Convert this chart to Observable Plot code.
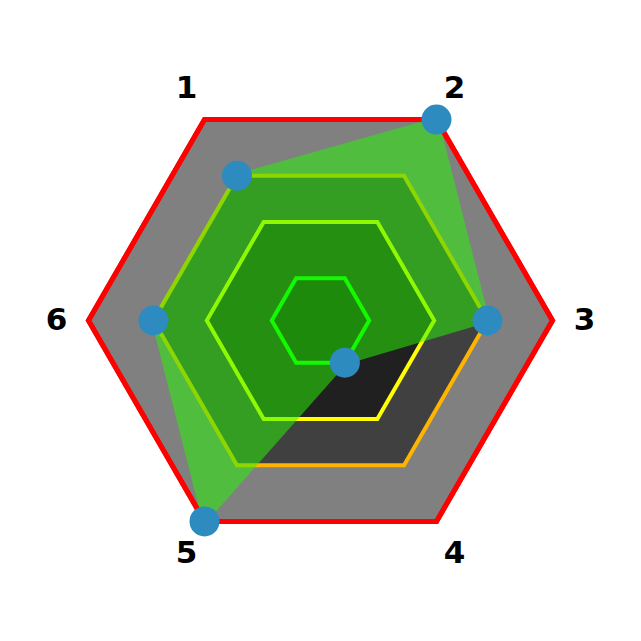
<!DOCTYPE html>
<html>
<head>
<meta charset="utf-8">
<script src="https://cdn.jsdelivr.net/npm/d3@7"></script>
<script src="https://cdn.jsdelivr.net/npm/@observablehq/plot@0.6"></script>
<style>
  html, body { margin: 0; padding: 0; background: #ffffff; }
  #chart svg { display: block; }
</style>
</head>
<body>
<div id="chart"></div>
<script>
// ---- data ----
const axes = ["1", "2", "3", "4", "5", "6"];
const values = [72, 100, 72, 21, 100, 72];
const ringLevels = [100, 72, 49, 21];
const ringFills = ["#808080", "#404040", "#202020", "#151515"];
const ringStrokes = ["#ff0000", "#ffb400", "#ffff00", "#00ff00"];

// ---- geometry helpers ----
const R = 232;
const rScale = d3.scaleLinear().domain([0, 100]).range([0, R]);
const angleOf = i => (120 - 60 * i) * Math.PI / 180;
const polar = (i, rad) => ({x: rad * Math.cos(angleOf(i)), y: rad * Math.sin(angleOf(i))});

const marks = [];
ringLevels.forEach((lvl, k) => {
  const pts = axes.map((a, i) => ({axis: a, ...polar(i, rScale(lvl))}));
  marks.push(Plot.line(pts, {
    x: "x", y: "y", curve: "linear-closed",
    fill: ringFills[k], stroke: ringStrokes[k],
    strokeWidth: k === 0 ? 5 : 4, strokeLinejoin: "miter", strokeMiterlimit: 4
  }));
});

const dataPts = axes.map((a, i) => ({axis: a, value: values[i], ...polar(i, rScale(values[i]))}));
marks.push(Plot.line(dataPts, {
  x: "x", y: "y", curve: "linear-closed",
  fill: "rgb(40,245,5)", stroke: "rgb(40,245,5)", strokeWidth: 4,
  strokeLinejoin: "miter", strokeMiterlimit: 4, opacity: 0.52
}));

// outer border redrawn on top
const outerPts = axes.map((a, i) => ({axis: a, ...polar(i, rScale(ringLevels[0]))}));
marks.push(Plot.line(outerPts, {
  x: "x", y: "y", curve: "linear-closed",
  fill: "none", stroke: ringStrokes[0], strokeWidth: 5, strokeLinejoin: "miter", strokeMiterlimit: 4
}));

marks.push(Plot.dot(dataPts, {x: "x", y: "y", r: 15, fill: "#2d8bbf", stroke: "none"}));

const labelPts = axes.map((a, i) => ({
  axis: a,
  ...polar(i, R + 32 + 4 * Math.abs(Math.sin(angleOf(i))) / Math.sin(Math.PI / 3))
}));
marks.push(Plot.text(labelPts, {
  x: "x", y: "y", text: "axis",
  fontSize: 31, fontWeight: "bold", fontFamily: "DejaVu Sans", fill: "#000000"
}));

const chart = Plot.plot({
  width: 641,
  height: 641,
  margin: 0,
  style: {background: "#ffffff"},
  x: {domain: [-320, 321], axis: null},
  y: {domain: [-321, 320], axis: null},
  marks
});
document.getElementById("chart").appendChild(chart);
</script>
</body>
</html>
